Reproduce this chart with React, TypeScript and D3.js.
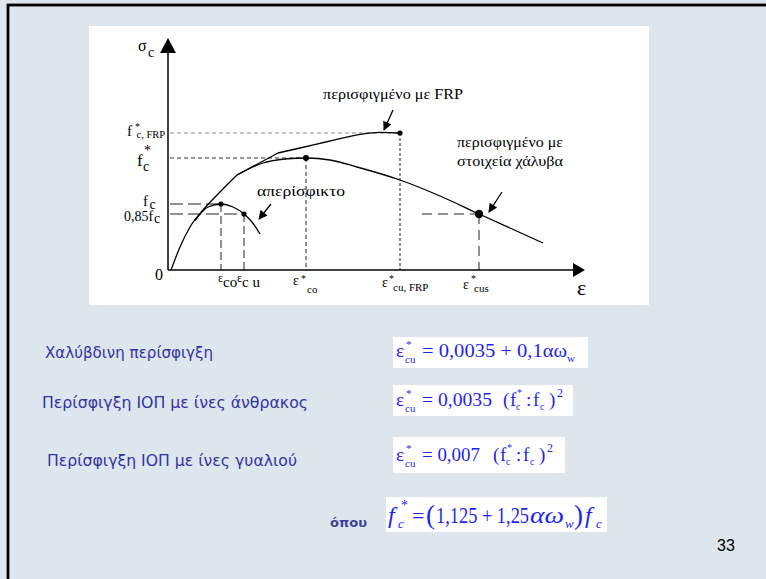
import React from 'react';
import * as d3 from 'd3';

type P = [number, number];

// stress–strain branches (strain units, stress units)
const commonBranch: P[] = [[0.75, 0], [3, 11.5], [5.5, 21.5], [8.75, 30], [13, 39], [17.25, 47.5]];
const unconfinedBranch: P[] = [[6.75, 24.75], [10, 31.5], [13.25, 33], [16.25, 31.5], [19, 28], [21, 24], [23, 18]];
const frpRise: P[] = [[17.25, 47.5], [27.5, 58.5]];
const frpBranch: P[] = [[27.5, 58.5], [33, 61], [40.5, 64.5], [48, 67.8], [53, 68.8], [58, 68.5]];
const steelBranch: P[] = [[17.25, 47.5], [23.75, 53.5], [29.25, 55.5], [34.5, 56], [40.5, 55], [47.25, 51.5], [58, 45], [68, 37], [77.75, 28], [93.75, 13.5]];

// characteristic points: εco, εcu, ε*co, ε*cu,FRP, ε*cus
const strainMarks = [13.25, 19, 34.5, 58, 77.75];
const stressMarks = [33, 28, 56, 68.5, 28];
const dotRadius = [2.6, 2.6, 3, 2.6, 4.2];

const curveLabels = ['περισφιγμένο με FRP', 'περισφιγμένο με', 'στοιχεία χάλυβα', 'απερίσφικτο'];
const caseLabels = ['Χαλύβδινη περίσφιγξη', 'Περίσφιγξη ΙΟΠ με ίνες άνθρακος', 'Περίσφιγξη ΙΟΠ με ίνες γυαλιού'];

const SERIF = '"Liberation Serif", "Times New Roman", serif';
const SANS = '"DejaVu Sans", "Noto Sans", sans-serif';
const BLUE = '#1f1ff2';
const NAVY = '#3434a0';

export default function App() {
  const x = d3.scaleLinear().domain([0, 100]).range([168, 568]);
  const y = d3.scaleLinear().domain([0, 100]).range([270, 70]);
  const smooth = d3.line<P>().x(d => x(d[0])).y(d => y(d[1])).curve(d3.curveMonotoneX);
  const straight = d3.line<P>().x(d => x(d[0])).y(d => y(d[1]));

  const x0 = x(0), y0 = y(0);
  const xEnd = x(104.25), yTop = y(116);

  const vDash = ['8,4', '8,4', '4,3', '3,2', '10,6'];
  const hDash = ['13,5', '13,5', '4,3', '4,3', '10,6'];
  const hColor = ['#222', '#222', '#333', '#8a8a8a', '#222'];
  const hStart = [0.5, 0.5, 0.5, 0.5, 63.5];

  const arrow = (x1: number, y1: number, x2: number, y2: number) => (
    <line x1={x1} y1={y1} x2={x2} y2={y2} stroke="#000" strokeWidth={1.3} markerEnd="url(#ah)" />
  );

  // formula blocks
  const ratio = (px: number, by: number) => (
    <g fontFamily={SERIF} fill={BLUE}>
      <text x={px} y={by} fontSize={19}>(</text>
      <text x={px + 7} y={by} fontSize={19}>f</text>
      <text x={px + 14} y={by - 10} fontSize={10}>*</text>
      <text x={px + 13} y={by + 4} fontSize={10}>c</text>
      <text x={px + 23} y={by} fontSize={19}>:</text>
      <text x={px + 30} y={by} fontSize={19}>f</text>
      <text x={px + 37} y={by + 4} fontSize={10}>c</text>
      <text x={px + 46} y={by} fontSize={19}>)</text>
      <text x={px + 54} y={by - 9} fontSize={12}>2</text>
    </g>
  );
  const epsCu = (by: number) => (
    <g fontFamily={SERIF} fill={BLUE}>
      <text x={396} y={by} fontSize={19}>ε</text>
      <text x={406} y={by - 9} fontSize={11}>*</text>
      <text x={405} y={by + 6} fontSize={11}>cu</text>
    </g>
  );

  return (
    <svg width={766} height={579} style={{ position: 'absolute', left: 0, top: 0 }}>
      <defs>
        <marker id="ah" viewBox="0 0 10 10" refX={9} refY={5} markerWidth={10} markerHeight={9}
          markerUnits="userSpaceOnUse" orient="auto">
          <path d="M0,0 L10,5 L0,10 z" fill="#000" />
        </marker>
      </defs>
      <rect x={0} y={0} width={766} height={579} fill="#dde5ed" />
      <rect x={8} y={5} width={800} height={600} fill="none" stroke="#000" strokeWidth={2.8} />
      <rect x={89} y={26} width={560} height={279} fill="#fff" />

      {/* guides */}
      {strainMarks.map((u, i) => (
        <g key={'g' + i}>
          <line x1={x(u)} x2={x(u)} y1={y(stressMarks[i])} y2={y0} stroke="#222" strokeWidth={1} strokeDasharray={vDash[i]} />
          <line x1={x(hStart[i])} x2={x(u)} y1={y(stressMarks[i])} y2={y(stressMarks[i])} stroke={hColor[i]} strokeWidth={1} strokeDasharray={hDash[i]} />
        </g>
      ))}

      {/* axes */}
      <line x1={x0} y1={y0} x2={xEnd - 11} y2={y0} stroke="#000" strokeWidth={1.5} />
      <polygon points={`${xEnd},${y0} ${xEnd - 12},${y0 - 7} ${xEnd - 12},${y0 + 7}`} fill="#000" />
      <line x1={x0} y1={y0} x2={x0} y2={yTop + 12} stroke="#000" strokeWidth={1.5} />
      <polygon points={`${x0},${yTop} ${x0 - 8},${yTop + 15} ${x0 + 8},${yTop + 15}`} fill="#000" />

      {/* curves */}
      <g fill="none" stroke="#000" strokeWidth={1.3}>
        <path d={smooth(commonBranch) || ''} />
        <path d={smooth(unconfinedBranch) || ''} />
        <path d={straight(frpRise) || ''} />
        <path d={smooth(frpBranch) || ''} />
        <path d={smooth(steelBranch) || ''} />
      </g>
      {strainMarks.map((u, i) => (
        <circle key={'d' + i} cx={x(u)} cy={y(stressMarks[i])} r={dotRadius[i]} fill="#000" />
      ))}

      {/* pointer arrows */}
      {arrow(393, 110, 384, 130)}
      {arrow(502, 192, 489, 212)}
      {arrow(271, 204, 259, 219)}

      {/* chart texts */}
      <g fontFamily={SERIF} fill="#000">
        <text x={323} y={99} fontSize={15.5} textLength={140} lengthAdjust="spacingAndGlyphs">{curveLabels[0]}</text>
        <text x={457} y={147} fontSize={15.5} textLength={106} lengthAdjust="spacingAndGlyphs">{curveLabels[1]}</text>
        <text x={457} y={166} fontSize={15.5} textLength={106} lengthAdjust="spacingAndGlyphs">{curveLabels[2]}</text>
        <text x={257} y={196} fontSize={15.5} textLength={88} lengthAdjust="spacingAndGlyphs">{curveLabels[3]}</text>

        <text x={138} y={51} fontSize={16}>σ</text>
        <text x={148} y={57} fontSize={14}>c</text>
        <text x={155} y={280} fontSize={16}>0</text>
        <text x={577} y={295} fontSize={22}>ε</text>

        {/* y labels */}
        <text x={127} y={y(stressMarks[3]) + 3} fontSize={15}>f</text>
        <text x={135} y={y(stressMarks[3]) - 3} fontSize={10}>*</text>
        <text x={136.5} y={y(stressMarks[3]) + 5} fontSize={10.5}>c, FRP</text>

        <text x={137} y={y(stressMarks[2]) + 8} fontSize={17}>f</text>
        <text x={144} y={y(stressMarks[2]) - 3} fontSize={14}>*</text>
        <text x={143} y={y(stressMarks[2]) + 13} fontSize={14}>c</text>

        <text x={143} y={y(stressMarks[0]) + 2} fontSize={15}>f</text>
        <text x={149.5} y={y(stressMarks[0]) + 5} fontSize={14}>c</text>

        <text x={124} y={y(stressMarks[1]) + 6.5} fontSize={14}>0,85f</text>
        <text x={154} y={y(stressMarks[1]) + 9} fontSize={14}>c</text>

        {/* x labels */}
        <text x={x(strainMarks[0]) - 3} y={282} fontSize={12}>ε</text>
        <text x={x(strainMarks[0]) + 2} y={287} fontSize={15}>co</text>
        <text x={x(strainMarks[1]) - 7} y={282} fontSize={12}>ε</text>
        <text x={x(strainMarks[1]) - 2} y={287} fontSize={15}>c u</text>

        <text x={x(strainMarks[2]) - 13} y={285} fontSize={14}>ε</text>
        <text x={x(strainMarks[2]) - 5} y={282} fontSize={10}>*</text>
        <text x={x(strainMarks[2]) + 1} y={293} fontSize={11}>co</text>

        <text x={x(strainMarks[3]) - 18} y={287} fontSize={14}>ε</text>
        <text x={x(strainMarks[3]) - 11} y={282} fontSize={10}>*</text>
        <text x={x(strainMarks[3]) - 7} y={291} fontSize={11}>cu, FRP</text>

        <text x={x(strainMarks[4]) - 16} y={289} fontSize={14}>ε</text>
        <text x={x(strainMarks[4]) - 8} y={282} fontSize={10}>*</text>
        <text x={x(strainMarks[4]) - 5} y={292} fontSize={11}>cus</text>
      </g>

      {/* case labels */}
      <g fontFamily={SANS} fill={NAVY} fontSize={15}>
        <text x={45} y={358} textLength={168} lengthAdjust="spacingAndGlyphs">{caseLabels[0]}</text>
        <text x={42} y={408} textLength={266} lengthAdjust="spacingAndGlyphs">{caseLabels[1]}</text>
        <text x={47} y={466} textLength={250} lengthAdjust="spacingAndGlyphs">{caseLabels[2]}</text>
        <text x={330} y={527} fontSize={13} fontWeight="bold" fill="#3e3e96" textLength={37} lengthAdjust="spacingAndGlyphs">όπου</text>
      </g>

      {/* formula boxes */}
      <rect x={393} y={337} width={195} height={31} fill="#fff" />
      <rect x={393} y={385} width={180} height={31} fill="#fff" />
      <rect x={393} y={437} width={172} height={36} fill="#fff" />
      <rect x={386} y={497} width={221} height={35} fill="#fff" />

      {epsCu(357)}
      <g fontFamily={SERIF} fill={BLUE}>
        <text x={422} y={357} fontSize={19} textLength={145} lengthAdjust="spacingAndGlyphs">= 0,0035 + 0,1αω</text>
        <text x={567} y={362} fontSize={11}>w</text>
      </g>

      {epsCu(406)}
      <text x={422} y={406} fontSize={19} fontFamily={SERIF} fill={BLUE} textLength={70} lengthAdjust="spacingAndGlyphs">= 0,0035</text>
      {ratio(503, 406)}

      {epsCu(461)}
      <text x={422} y={461} fontSize={19} fontFamily={SERIF} fill={BLUE} textLength={58} lengthAdjust="spacingAndGlyphs">= 0,007</text>
      {ratio(493, 461)}

      <g fontFamily={SERIF} fill={BLUE}>
        <text x={388} y={523} fontSize={24} fontStyle="italic">f</text>
        <text x={398} y={528} fontSize={13} fontStyle="italic">c</text>
        <text x={401} y={510} fontSize={14}>*</text>
        <text x={412} y={523} fontSize={22}>=</text>
        <text x={426} y={524} fontSize={27}>(</text>
        <text x={436} y={523} fontSize={24} textLength={93} lengthAdjust="spacingAndGlyphs">1,125 + 1,25</text>
        <text x={530} y={523} fontSize={24} fontStyle="italic" textLength={34} lengthAdjust="spacingAndGlyphs">αω</text>
        <text x={565} y={528} fontSize={13} fontStyle="italic">w</text>
        <text x={574} y={524} fontSize={27}>)</text>
        <text x={585} y={523} fontSize={24} fontStyle="italic">f</text>
        <text x={596} y={528} fontSize={13} fontStyle="italic">c</text>
      </g>

      <text x={717} y={551} fontSize={16} fontFamily='"Liberation Sans", Arial, sans-serif' fill="#000">33</text>
    </svg>
  );
}
